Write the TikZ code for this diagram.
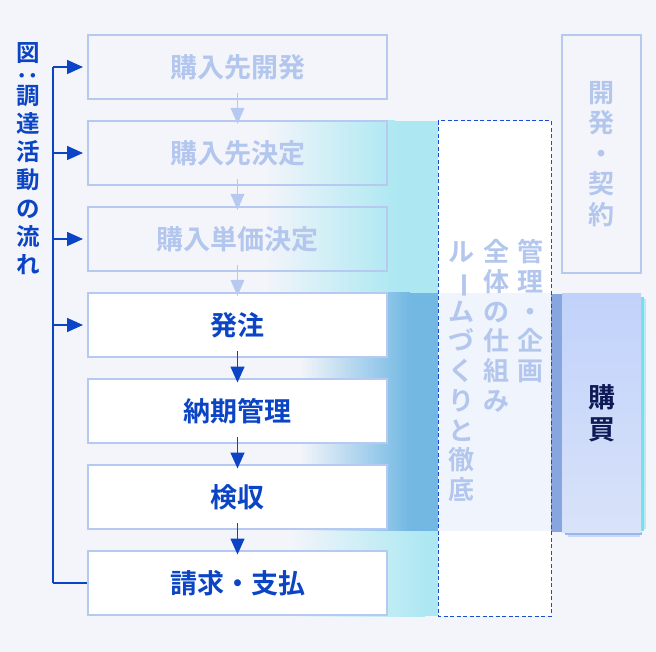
\documentclass[tikz,border=0pt]{standalone}
\usepackage{fontspec}
\usepackage{graphicx}
\setmainfont{Noto Sans CJK JP}[BoldFont={Noto Sans CJK JP Bold}]
\usetikzlibrary{arrows.meta}
\definecolor{bg}{HTML}{F3F5FA}
\definecolor{faint}{HTML}{B6C9F0}
\definecolor{fainttext}{HTML}{B3C6EE}
\definecolor{deepblue}{HTML}{0B45C5}
\definecolor{cyanband}{HTML}{ADE8F2}
\definecolor{blueband}{HTML}{72B8E3}
\definecolor{dashblue}{HTML}{1A4ECB}
\definecolor{paleinside}{HTML}{F0F4FC}
\definecolor{stripblue}{HTML}{87A6DF}
\definecolor{buytop}{HTML}{C1D2FA}
\definecolor{buybot}{HTML}{D8E2F9}
\definecolor{buytext}{HTML}{0D1A56}
\definecolor{glowcyan}{HTML}{5FDCEB}
\definecolor{shadowblue}{HTML}{4A86E4}
\tikzset{
  flowbox/.style={draw=faint, line width=2pt, minimum width=299pt, minimum height=64pt,
    inner sep=0pt, text height=23.76pt, text depth=3.24pt, font=\fontsize{27}{27}\selectfont\bfseries},
  fadedbox/.style={flowbox, text=fainttext},
  activebox/.style={flowbox, fill=white, text=deepblue},
  fadearrow/.style={draw=faint, line width=1.5pt, shorten <=-7pt, shorten >=-4pt,
    -{Triangle[length=16pt,width=13.5pt]}},
  darkarrow/.style={draw=deepblue, line width=1.5pt, shorten <=-7pt, shorten >=-4.5pt,
    -{Triangle[length=16pt,width=14pt]}},
  sidearrow/.style={draw=deepblue, line width=1.5pt, shorten >=4pt, -{Triangle[length=16pt,width=14pt]}},
  sideline/.style={draw=deepblue, line width=1.5pt},
  titlechar/.style={inner sep=0pt, text height=20.5pt, text depth=2.8pt, text=deepblue,
    font=\fontsize{23.5}{23.5}\selectfont\bfseries},
  colchar/.style={inner sep=0pt, text height=22.88pt, text depth=3.12pt, text=fainttext,
    font=\fontsize{26}{26}\selectfont\bfseries},
  sidebox/.style={minimum width=79pt, inner sep=0pt, align=center},
}
\begin{document}
\begin{tikzpicture}[x=1pt,y=-1pt]
\useasboundingbox (0,0) rectangle (656,652);
\fill[bg] (0,0) rectangle (656,652);

% gradient bands
\shade[left color=bg, right color=cyanband] (265,121) rectangle (395,293);
\fill[cyanband] (395,121) rectangle (438,293);
\shade[left color=bg, right color=blueband] (300,293) rectangle (410,531);
\fill[blueband] (410,293) rectangle (438,531);
\shade[left color=bg, right color=cyanband] (290,531) rectangle (425,616);
\fill[cyanband] (425,531) rectangle (438,616);

% dashed management box
\fill[white] (438,121) rectangle (551,616);
\fill[paleinside] (438,293) rectangle (551,531);
\fill[stripblue] (551,294) rectangle (562,532);
\draw[dashblue, line width=1pt, dash pattern=on 4pt off 2.5pt] (438,121) rectangle (551,616);

% glow and shadow of the purchase box
\fill[glowcyan, opacity=0.85] (641,297) rectangle (643.5,531);
\fill[glowcyan, opacity=0.4] (643.5,299) rectangle (646,529);
\fill[shadowblue, opacity=0.55] (565,532) rectangle (642,534.5);
\fill[shadowblue, opacity=0.25] (568,534.5) rectangle (640,537);

% right-hand boxes
\node[sidebox, draw=faint, line width=2pt, minimum height=238pt, text=fainttext,
  font=\fontsize{26}{30.5}\selectfont\bfseries] (dev) at (601.5,154)
  {開\\発\\・\\契\\約};
\node[sidebox, top color=buytop, bottom color=buybot, minimum height=238pt, text=buytext,
  font=\fontsize{27}{32}\selectfont\bfseries] (buy) at (601.5,413) {購\\買};

% flow boxes
\node[fadedbox] (b1) at (237.5,67) {購入先開発};
\node[fadedbox] (b2) at (237.5,153) {購入先決定};
\node[fadedbox] (b3) at (237.5,239) {購入単価決定};
\node[activebox] (b4) at (237.5,325) {発注};
\node[activebox] (b5) at (237.5,411) {納期管理};
\node[activebox] (b6) at (237.5,497) {検収};
\node[activebox] (b7) at (237.5,583) {請求・支払};

\draw[fadearrow] (b1) -- (b2);
\draw[fadearrow] (b2) -- (b3);
\draw[fadearrow] (b3) -- (b4);
\draw[darkarrow] (b4) -- (b5);
\draw[darkarrow] (b5) -- (b6);
\draw[darkarrow] (b6) -- (b7);

% left bracket connectors
\coordinate (L1) at (53,67);
\coordinate (L2) at (53,153);
\coordinate (L3) at (53,239);
\coordinate (L4) at (53,325);
\coordinate (L7) at (53,583);
\draw[sideline] (L1) -- (L7);
\draw[sidearrow] (L1) -- (b1);
\draw[sidearrow] (L2) -- (b2);
\draw[sidearrow] (L3) -- (b3);
\draw[sidearrow] (L4) -- (b4);
\draw[sideline] (L7) -- (b7);

% vertical title
\foreach \c/\y [count=\i] in {図/53,{\rotatebox[origin=c]{90}{：}}/75,調/96,達/124,活/152,動/180,の/209,流/237,れ/265}
  \node[titlechar] (t\i) at (28,\y) {\c};

% vertical text in the dashed box
\foreach \c [count=\i] in {管,理,・,企,画}
  \node[colchar] (r\i) at (530,{252+29.7*(\i-1)}) {\c};
\foreach \c [count=\i] in {全,体,の,仕,組,み}
  \node[colchar] (m\i) at (496,{252+29.7*(\i-1)}) {\c};
\foreach \c [count=\i] in {ル,{\rotatebox[origin=c]{-90}{ー}},ム,づ,く,り,と,徹,底}
  \node[colchar] (l\i) at (461,{252+29.7*(\i-1)}) {\c};
\end{tikzpicture}
\end{document}
